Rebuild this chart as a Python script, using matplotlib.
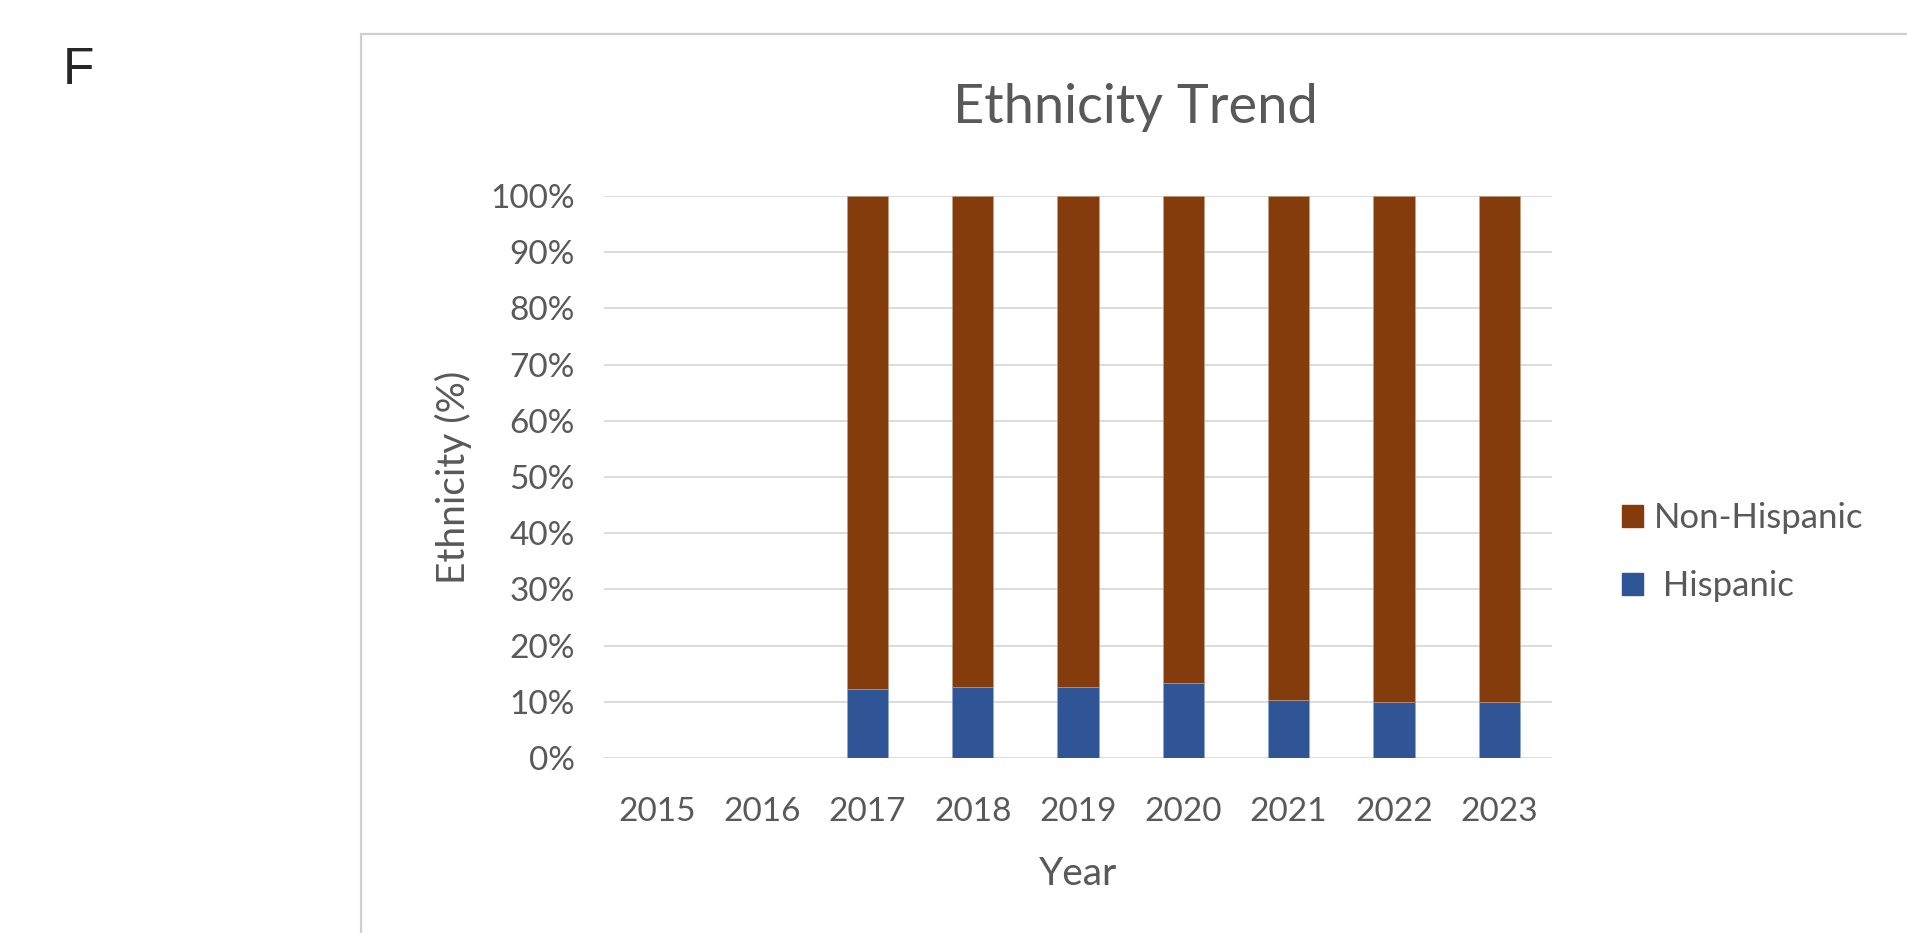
import numpy as np
import matplotlib
matplotlib.use("Agg")
import matplotlib.pyplot as plt
from matplotlib.patches import Rectangle, Patch

# Ethnicity share per year (percent); 2015/2016 have no records
years = ["2015", "2016", "2017", "2018", "2019", "2020", "2021", "2022", "2023"]
hispanic = [0, 0, 12.2, 12.6, 12.6, 13.4, 10.3, 9.9, 9.9]
non_hispanic = [0, 0, 87.8, 87.4, 87.4, 86.6, 89.7, 90.1, 90.1]
y_ticks = [0, 10, 20, 30, 40, 50, 60, 70, 80, 90, 100]

TEXT = "#595959"
GRID = "#D9D9D9"
BLUE = "#2F5597"
BROWN = "#843C0C"

plt.rcParams["font.family"] = ["Lato", "DejaVu Sans"]

fig = plt.figure(figsize=(19.08, 9.33), dpi=100)
W, H = 1908, 933

# panel frame running off the right and bottom edges
fig.patches.append(Rectangle((361 / W, -0.05), 1.2, 1 - 34 / H + 0.05,
                             transform=fig.transFigure, fill=False,
                             edgecolor="#CFCFCF", linewidth=1.6))

fig.text(63 / W, 1 - 71 / H, "F", fontsize=37, color="#262626",
         va="center", ha="left", family=["Liberation Sans", "DejaVu Sans"])

ax = fig.add_axes([604 / W, 1 - 758 / H, (1552 - 604) / W, (758 - 196) / H])

x = np.arange(len(years))
width = 0.39
ax.bar(x, hispanic, width, color=BLUE, edgecolor="#8FA8D8", linewidth=0.4, zorder=3)
ax.bar(x, non_hispanic, width, bottom=hispanic, color=BROWN,
       edgecolor="#C9A087", linewidth=0.4, zorder=3)

ax.set_xlim(-0.5, len(years) - 0.5)
ax.set_ylim(0, 100)
ax.set_yticks(y_ticks)
ax.set_yticklabels([f"{t}%" for t in y_ticks])
ax.set_xticks(x)
ax.set_xticklabels(years)
ax.yaxis.grid(True, color=GRID, linewidth=1.3, zorder=0)
ax.set_axisbelow(True)
for s in ax.spines.values():
    s.set_visible(False)
ax.tick_params(axis="both", length=0, labelsize=24, colors=TEXT)
ax.tick_params(axis="y", pad=21)
ax.tick_params(axis="x", pad=28)

ax.set_ylabel("Ethnicity (%)", fontsize=28, color=TEXT, labelpad=13)
ax.set_xlabel("Year", fontsize=28, color=TEXT, labelpad=21)

fig.text(1135 / W, 1 - 107 / H, "Ethnicity Trend", fontsize=39, color=TEXT,
         ha="center", va="center")

handles = [Patch(facecolor=BROWN, edgecolor=BROWN), Patch(facecolor=BLUE, edgecolor=BLUE)]
fig.legend(handles, ["Non-Hispanic", " Hispanic"], loc="center left",
           bbox_to_anchor=(1605 / W, 1 - 552 / H), frameon=False, fontsize=25,
           handlelength=0.6, handleheight=0.6, handletextpad=0.3,
           labelspacing=1.05, labelcolor=TEXT, borderpad=0)

fig.savefig("out.png", dpi=100)
